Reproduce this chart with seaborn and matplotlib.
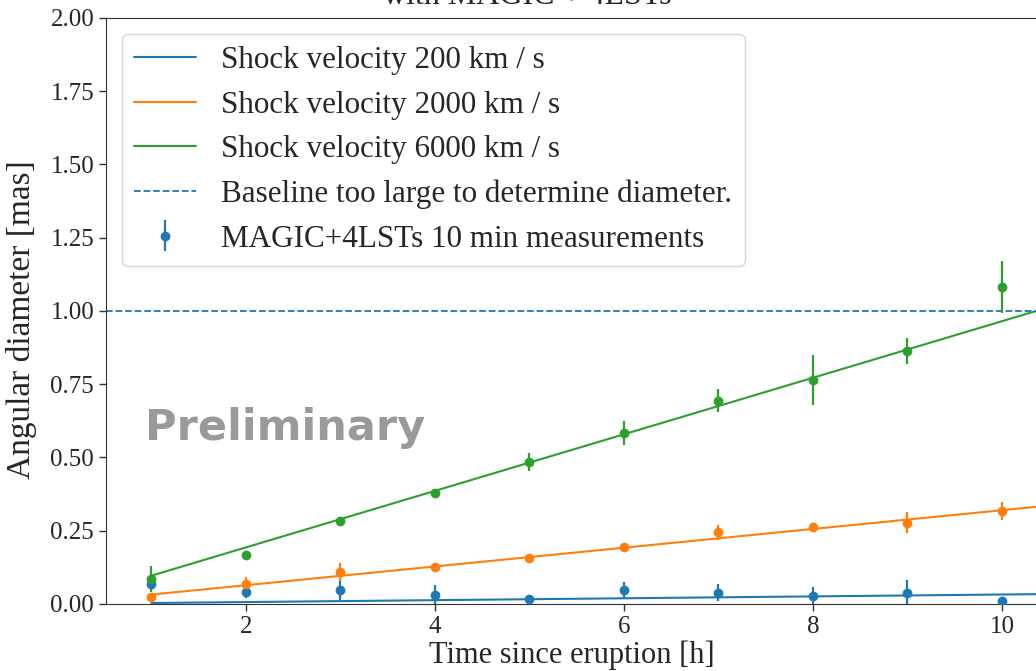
import matplotlib
matplotlib.use("Agg")
import matplotlib.pyplot as plt
import seaborn as sns
import pandas as pd
from matplotlib.lines import Line2D

# Measured angular diameters [mas] per hour after eruption, with 1-sigma errors
hours = [1, 2, 3, 4, 5, 6, 7, 8, 9, 10]
diam_200 = [0.067, 0.042, 0.048, 0.031, 0.018, 0.048, 0.039, 0.027, 0.039, 0.010]
err_200 = [0.020, 0.020, 0.033, 0.035, 0.008, 0.028, 0.030, 0.030, 0.042, 0.008]
diam_2000 = [0.024, 0.068, 0.109, 0.126, 0.158, 0.196, 0.245, 0.264, 0.278, 0.318]
err_2000 = [0.008, 0.025, 0.030, 0.008, 0.008, 0.008, 0.025, 0.008, 0.035, 0.030]
diam_6000 = [0.085, 0.166, 0.283, 0.379, 0.485, 0.583, 0.694, 0.765, 0.863, 1.082]
err_6000 = [0.045, 0.015, 0.012, 0.008, 0.030, 0.040, 0.040, 0.085, 0.045, 0.090]

# Expanding-shell model lines (diameter grows linearly with time)
model_hours = [1, 11]
model_200 = [0.0033, 0.0355]
model_2000 = [0.032, 0.352]
model_6000 = [0.0965, 1.0615]

velocities = ["200", "2000", "6000"]
baseline_limit = 1.0

sns.set_style("ticks")
plt.rcParams["font.family"] = ["Liberation Serif", "DejaVu Serif"]

colors = ["#1f77b4", "#ff7f0e", "#2ca02c"]

fig = plt.figure(figsize=(10.36, 6.71), dpi=100)
ax = fig.add_axes([0.1023, 0.0999, 1.0016, 0.8733])

model_df = pd.DataFrame({
    "t": model_hours * 3,
    "d": model_200 + model_2000 + model_6000,
    "v": [v for v in velocities for _ in model_hours],
})
sns.lineplot(data=model_df, x="t", y="d", hue="v", palette=colors,
             linewidth=1.5, legend=False, ax=ax)

ax.axhline(baseline_limit, color="#1f77b4", linestyle="--", linewidth=1.3)

for d, e, c in zip([diam_200, diam_2000, diam_6000],
                   [err_200, err_2000, err_6000], colors):
    ax.errorbar(hours, d, yerr=e, fmt="o", color=c, markersize=6,
                elinewidth=1.6, capsize=0, zorder=3)

ax.set_xlim(0.52, 11.5)
ax.set_ylim(0, 2.0)
ax.set_xticks([2, 4, 6, 8, 10])
ax.set_yticks([0, 0.25, 0.5, 0.75, 1.0, 1.25, 1.5, 1.75, 2.0])
ax.set_yticklabels([f"{v:.2f}" for v in ax.get_yticks()])
ax.tick_params(labelsize=18, length=5, width=1, color="#333333")
for s in ax.spines.values():
    s.set_color("#333333")
ax.set_xlabel("Time since eruption [h]", fontsize=22)
ax.set_ylabel("Angular diameter [mas]", fontsize=24)
ax.xaxis.set_label_coords(0.449, -0.062)
ax.yaxis.set_label_coords(-0.066, 0.485)

handles = [Line2D([], [], color=c, linewidth=1.5) for c in colors]
handles.append(Line2D([], [], color="#1f77b4", linestyle="--", linewidth=1.3))
meas = ax.errorbar([], [], yerr=[], fmt="o", color="#1f77b4", markersize=6,
                   elinewidth=1.6)
handles.append(meas)
labels = [f"Shock velocity {v} km / s" for v in velocities]
labels += ["Baseline too large to determine diameter.",
           "MAGIC+4LSTs 10 min measurements"]
ax.legend(handles, labels, loc="upper left", fontsize=22.4, frameon=True,
          framealpha=0.8, edgecolor="0.8", fancybox=True)

ax.text(145 / 1036, (671 - 440) / 671, "Preliminary", transform=fig.transFigure,
        fontsize=31, fontweight="bold", color="#9a9a9a",
        family="DejaVu Sans", va="baseline", ha="left", zorder=10)
fig.text(0.509, 0.9945, "with MAGIC + 4LSTs", ha="center", va="baseline",
         fontsize=23)

fig.savefig("out.png", dpi=100)
